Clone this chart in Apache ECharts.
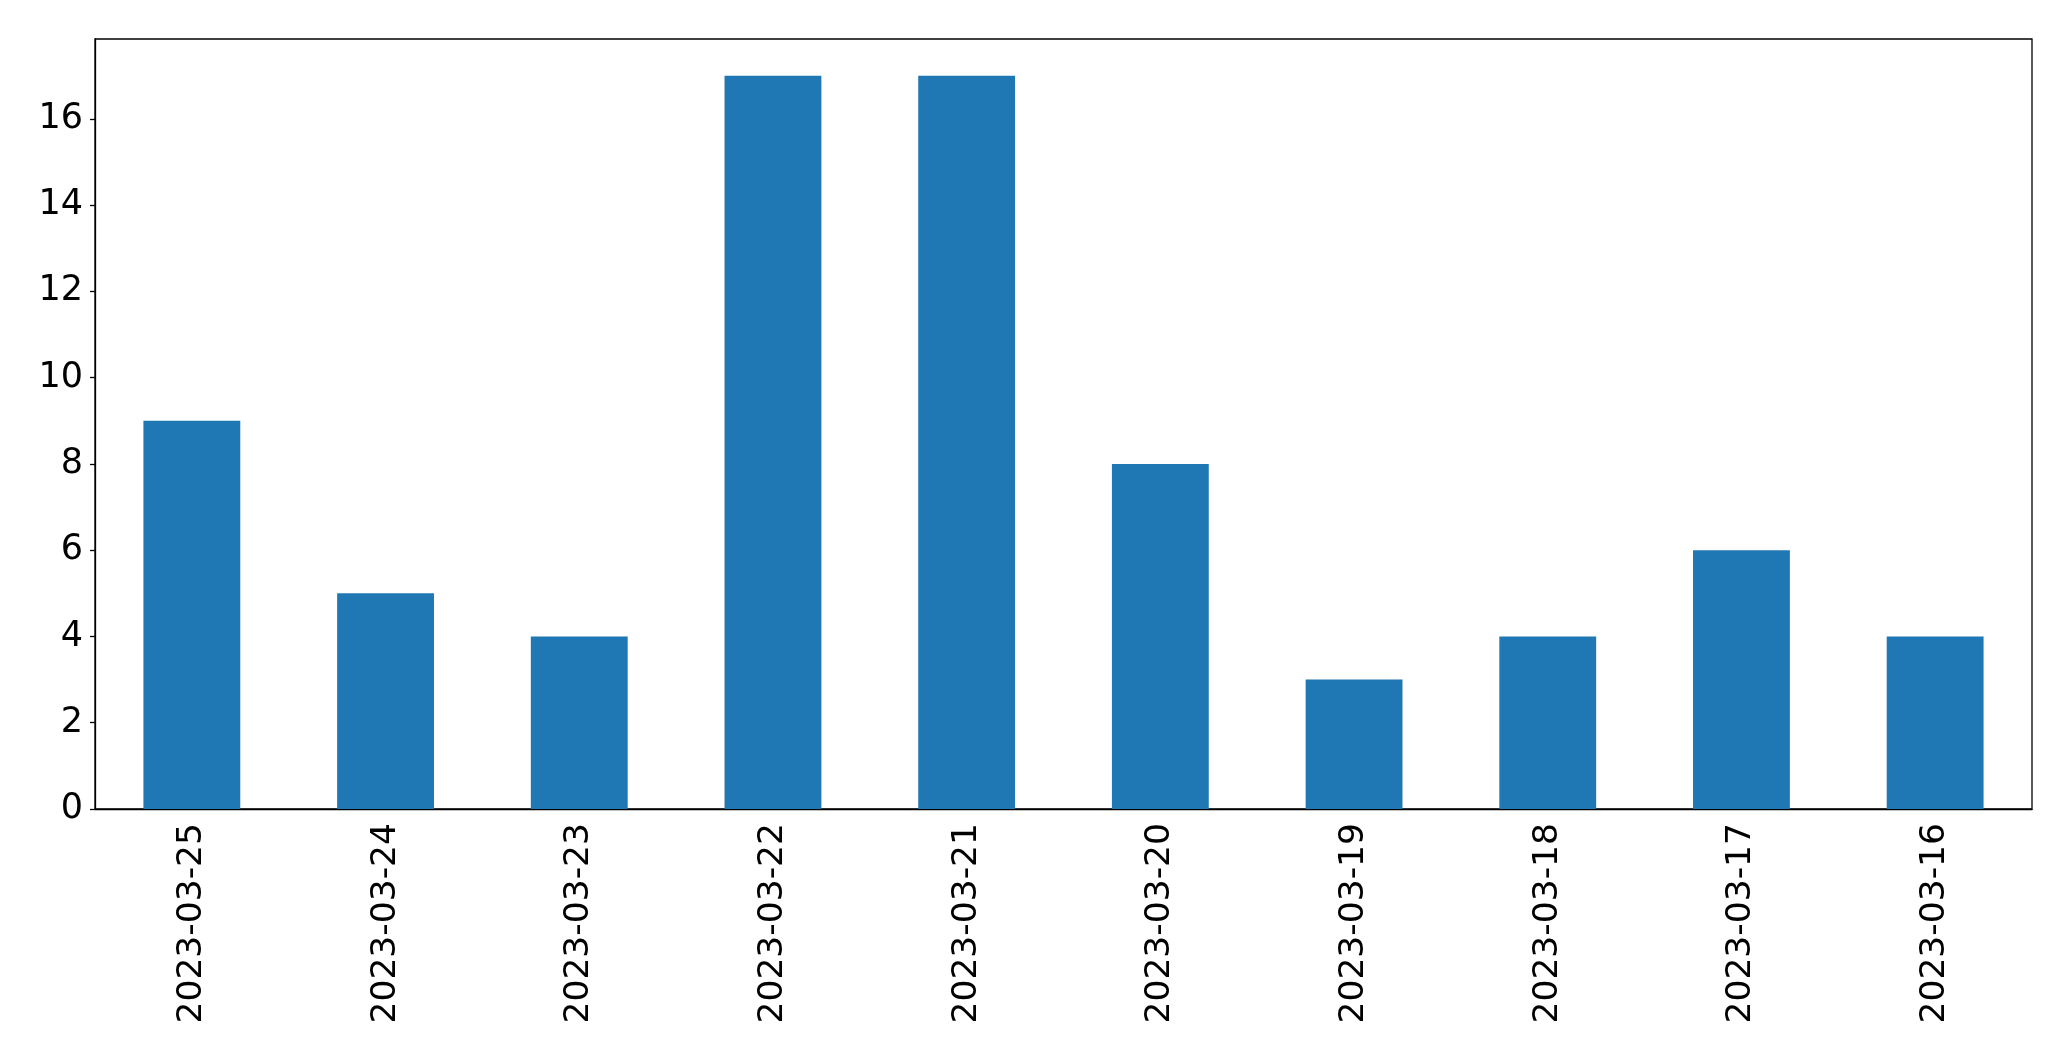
<!DOCTYPE html>
<html><head><meta charset="utf-8">
<script src="https://cdn.jsdelivr.net/npm/echarts@6/dist/echarts.min.js"></script>
<style>html,body{margin:0;padding:0;background:#fff}#c{width:2071px;height:1061px}</style>
</head><body><div id="c"></div>
<script>
var categories = ['2023-03-25','2023-03-24','2023-03-23','2023-03-22','2023-03-21','2023-03-20','2023-03-19','2023-03-18','2023-03-17','2023-03-16'];
var values = [9,5,4,17,17,8,3,4,6,4];
var yTicks = [0,2,4,6,8,10,12,14,16];
var chart = echarts.init(document.getElementById('c'), null, {renderer:'canvas'});
var font = 'DejaVu Sans';
chart.setOption({
  animation:false,
  backgroundColor:'#fff',
  grid:{left:95,right:39,top:39,bottom:252,show:true,borderColor:'#000',borderWidth:1.3,backgroundColor:'transparent'},
  xAxis:{type:'category',data:categories,
    axisLine:{lineStyle:{color:'#000',width:1.3}},
    axisTick:{alignWithLabel:true,length:5,lineStyle:{color:'#000',width:1.3}},
    axisLabel:{rotate:90,color:'#000',fontFamily:font,fontSize:34.5,margin:14,interval:0}},
  yAxis:{type:'value',min:0,max:17.85,
    splitLine:{show:false},
    axisLine:{show:true,lineStyle:{color:'#000',width:1.3}},
    axisTick:{show:true,length:5,customValues:yTicks,lineStyle:{color:'#000',width:1.3}},
    axisLabel:{color:'#000',fontFamily:font,fontSize:35,margin:12,customValues:yTicks}},
  series:[{type:'bar',data:values,barWidth:'50%',itemStyle:{color:'#1f77b4'}}]
});
</script></body></html>
